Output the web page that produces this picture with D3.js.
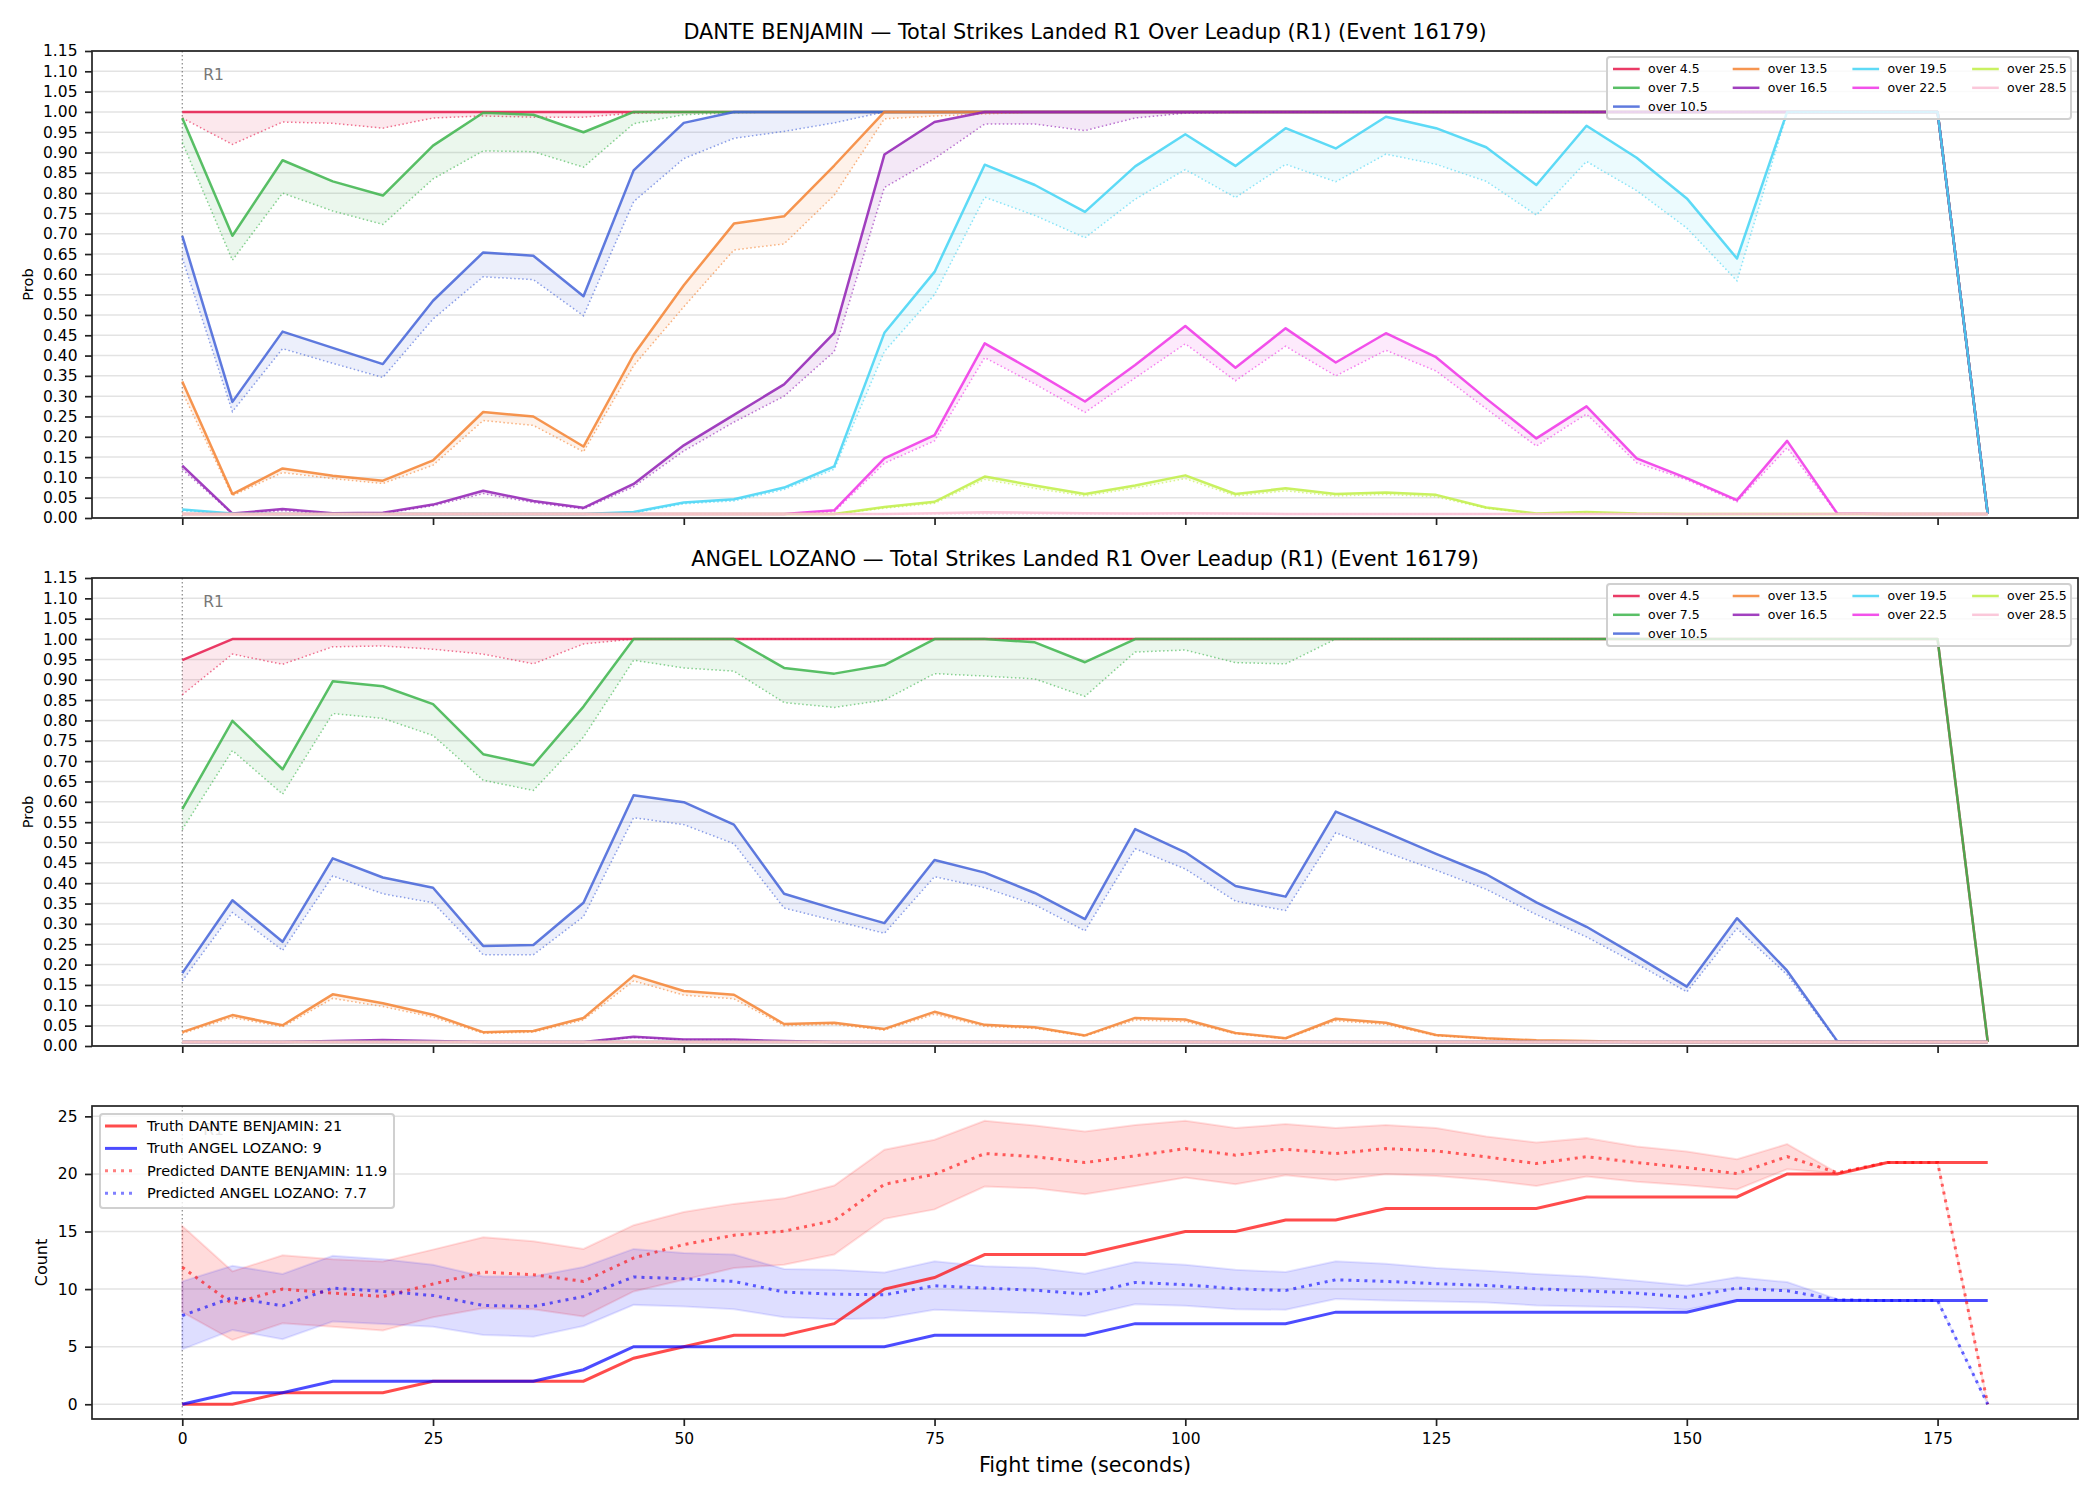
<!DOCTYPE html>
<html>
<head>
<meta charset="utf-8">
<script src="https://cdn.jsdelivr.net/npm/d3@7"></script>
<style>
body { margin: 0; background: #fff; }
text { font-family: "DejaVu Sans", sans-serif; }
</style>
</head>
<body>
<script>
//wrap everything in a self-executing anonymous function to keep it local
(function(){

//fight time (seconds) of every sample
var fightTimes = [0,5,10,15,20,25,30,35,40,45,50,55,60,65,70,75,80,85,90,95,100,105,110,115,120,125,130,135,140,145,150,155,160,165,170,175,180];

//tick values
var timeTicks = [0,25,50,75,100,125,150,175];
var probTicks = [0,0.05,0.10,0.15,0.20,0.25,0.30,0.35,0.40,0.45,0.50,0.55,0.60,0.65,0.70,0.75,0.80,0.85,0.90,0.95,1.00,1.05,1.10,1.15];
var countTicks = [0,5,10,15,20,25];

var fighterNames = ["DANTE BENJAMIN", "ANGEL LOZANO"];
var eventId = 16179;

//over lines and their colours
var lineLabels = ["over 4.5","over 7.5","over 10.5","over 13.5","over 16.5","over 19.5","over 22.5","over 25.5","over 28.5"];
var lineColours = ["#e6194b","#3cb44b","#4363d8","#f58231","#911eb4","#42d4f4","#f032e6","#bfef45","#fabed4"];

//line that sits on the 0.01 floor the whole fight
var floorLine = [.01,.01,.01,.01,.01,.01,.01,.01,.01,.01, .01,.01,.01,.01,.01,.01,.01,.01,.01,.01, .01,.01,.01,.01,.01,.01,.01,.01,.01,.01, .01,.01,.01,.01,.01,.01,.01];

//DANTE BENJAMIN - solid lines
var danteSolid45 = [1,1,1,1,1,1,1,1,1,1, 1,1,1,1,1,1,1,1,1,1, 1,1,1,1,1,1,1,1,1,1, 1,1,1,1,1,1,.01];
var danteSolid75 = [.985,.695,.881,.829,.794,.917,.998,.993,.95,1, 1,1,1,1,1,1,1,1,1,1, 1,1,1,1,1,1,1,1,1,1, 1,1,1,1,1,1,.01];
var danteSolid105 = [.695,.286,.459,.419,.379,.535,.654,.646,.546,.856, .973,1,1,1,1,1,1,1,1,1, 1,1,1,1,1,1,1,1,1,1, 1,1,1,1,1,1,.01];
var danteSolid135 = [.336,.059,.122,.104,.092,.142,.261,.25,.176,.402, .573,.725,.743,.868,1,1,1,1,1,1, 1,1,1,1,1,1,1,1,1,1, 1,1,1,1,1,1,.01];
var danteSolid165 = [.129,.011,.022,.012,.013,.033,.067,.042,.025,.084, .179,.254,.329,.456,.895,.975,1,1,1,1, 1,1,1,1,1,1,1,1,1,1, 1,1,1,1,1,1,.01];
var danteSolid195 = [.021,.011,.01,.01,.01,.01,.01,.01,.01,.015, .038,.046,.075,.127,.456,.606,.87,.82,.754,.866, .945,.867,.96,.91,.988,.96,.913,.82,.966,.887, .787,.639,1,1,1,1,.01];
var danteSolid225 = [.01,.01,.01,.01,.01,.01,.01,.01,.01,.01, .01,.01,.01,.019,.147,.204,.43,.36,.287,.377, .473,.37,.467,.383,.455,.396,.294,.196,.275,.147, .098,.044,.19,.011,.01,.01,.01];
var danteSolid255 = [.01,.01,.01,.01,.01,.01,.01,.01,.01,.01, .01,.01,.01,.01,.027,.04,.102,.08,.059,.08, .105,.059,.073,.059,.063,.057,.026,.011,.015,.011, .01,.01,.01,.01,.01,.01,.01];
var danteSolid285 = [.01,.01,.01,.01,.01,.01,.01,.01,.01,.01, .01,.01,.01,.01,.01,.012,.014,.013,.012,.011, .012,.011,.01,.01,.01,.01,.01,.01,.01,.01, .01,.01,.01,.01,.01,.01,.01];

//DANTE BENJAMIN - dotted lines
var danteDotted45 = [.985,.92,.975,.972,.96,.985,.99,.987,.987,.997, .999,1,1,1,1,1,1,1,1,1, 1,1,1,1,1,1,1,1,1,1, 1,1,1,1,1,1,.01];
var danteDotted75 = [.925,.635,.80,.756,.723,.835,.904,.902,.864,.971, .993,.998,1,1,1,1,1,1,1,1, 1,1,1,1,1,1,1,1,1,1, 1,1,1,1,1,1,.01];
var danteDotted105 = [.64,.262,.417,.381,.346,.49,.594,.587,.498,.779, .885,.935,.952,.973,1,1,1,1,1,1, 1,1,1,1,1,1,1,1,1,1, 1,1,1,1,1,1,.01];
var danteDotted135 = [.31,.055,.112,.097,.085,.13,.24,.228,.163,.375, .52,.66,.675,.795,.983,.99,.995,1,1,1, 1,1,1,1,1,1,1,1,1,1, 1,1,1,1,1,1,.01];
var danteDotted165 = [.12,.01,.018,.01,.011,.03,.06,.038,.022,.077, .165,.236,.30,.41,.814,.885,.97,.97,.954,.985, .997,.999,1,1,1,1,1,1,1,1, 1,1,1,1,1,1,.01];
var danteDotted195 = [.018,.01,.01,.01,.01,.01,.01,.01,.01,.012, .035,.042,.07,.12,.41,.55,.79,.745,.69,.785, .858,.789,.871,.828,.896,.871,.829,.746,.878,.806, .714,.584,.998,1,1,1,.01];
var danteDotted225 = [.01,.01,.01,.01,.01,.01,.01,.01,.01,.01, .01,.01,.01,.015,.135,.19,.395,.33,.26,.345, .429,.338,.423,.35,.413,.362,.269,.177,.256,.136, .094,.04,.173,.01,.01,.01,.01];
var danteDotted255 = [.01,.01,.01,.01,.01,.01,.01,.01,.01,.01, .01,.01,.01,.01,.024,.036,.095,.073,.054,.074, .097,.054,.067,.054,.058,.052,.024,.01,.013,.01, .01,.01,.01,.01,.01,.01,.01];

//ANGEL LOZANO - solid lines
var angelSolid45 = [.948,1,1,1,1,1,1,1,1,1, 1,1,1,1,1,1,1,1,1,1, 1,1,1,1,1,1,1,1,1,1, 1,1,1,1,1,1,.01];
var angelSolid75 = [.582,.799,.68,.896,.884,.84,.717,.69,.834,1, 1,1,.929,.915,.936,1,1,.992,.943,1, 1,1,1,1,1,1,1,1,1,1, 1,1,1,1,1,1,.01];
var angelSolid105 = [.179,.358,.256,.461,.414,.389,.246,.248,.352,.616, .599,.544,.374,.337,.302,.457,.426,.376,.312,.533, .476,.393,.367,.576,.525,.472,.422,.353,.293,.221, .146,.314,.185,.012,.01,.01,.01];
var angelSolid135 = [.034,.076,.051,.127,.105,.077,.034,.037,.069,.173, .135,.126,.054,.057,.042,.084,.052,.046,.026,.069, .065,.032,.019,.067,.057,.027,.019,.014,.012,.01, .01,.01,.01,.01,.01,.01,.01];
var angelSolid165 = [.01,.01,.01,.012,.015,.012,.01,.01,.01,.023, .016,.016,.012,.01,.01,.01,.01,.01,.01,.01, .01,.01,.01,.01,.01,.01,.01,.01,.01,.01, .01,.01,.01,.01,.01,.01,.01];

//ANGEL LOZANO - dotted lines
var angelDotted45 = [.863,.963,.938,.981,.983,.975,.963,.939,.988,1, 1,1,1,1,1,1,1,1,1,1, 1,1,1,1,1,1,1,1,1,1, 1,1,1,1,1,1,.01];
var angelDotted75 = [.532,.726,.619,.817,.805,.763,.653,.628,.759,.948, .929,.921,.844,.832,.85,.915,.909,.902,.859,.968, .973,.942,.939,1,1,1,1,1,1,1, 1,1,1,1,1,1,.01];
var angelDotted105 = [.16,.328,.235,.418,.374,.352,.224,.224,.318,.561, .544,.497,.339,.308,.277,.416,.389,.347,.283,.485, .435,.356,.333,.524,.476,.432,.385,.323,.268,.202, .133,.289,.175,.01,.01,.01,.01];
var angelDotted135 = [.031,.07,.047,.117,.097,.071,.031,.034,.064,.16, .125,.116,.05,.053,.039,.078,.048,.043,.024,.064, .06,.03,.018,.062,.053,.025,.018,.013,.011,.01, .01,.01,.01,.01,.01,.01,.01];
var angelDotted165 = [.01,.01,.01,.011,.013,.011,.01,.01,.01,.021, .015,.015,.011,.01,.01,.01,.01,.01,.01,.01, .01,.01,.01,.01,.01,.01,.01,.01,.01,.01, .01,.01,.01,.01,.01,.01,.01];

//counts: truth and predicted with band
var truthDante = [0,0,1,1,1,2,2,2,2,4, 5,6,6,7,10,11,13,13,13,14, 15,15,16,16,17,17,17,17,18,18, 18,18,20,20,21,21,21];
var truthAngel = [0,1,1,2,2,2,2,2,3,5, 5,5,5,5,5,6,6,6,6,7, 7,7,7,8,8,8,8,8,8,8, 8,9,9,9,9,9,9];
var predDante = [11.9,8.72,10.0,9.65,9.36,10.44,11.48,11.25,10.67,12.7, 13.87,14.68,15.03,15.96,19.1,19.97,21.77,21.5,20.99,21.57, 22.2,21.63,22.15,21.77,22.2,22.0,21.48,20.9,21.5,20.99, 20.55,20.03,21.5,20.1,21.0,21.0,0];
var predDanteHigh = [15.47,11.54,12.94,12.6,12.4,13.43,14.5,14.16,13.49,15.55, 16.7,17.4,17.88,19.0,22.1,22.97,24.62,24.2,23.69,24.24, 24.62,23.98,24.33,23.98,24.24,23.98,23.26,22.73,23.11,22.38, 21.95,21.28,22.59,20.1,21.0,21.0,0];
var predDanteLow = [7.99,5.58,7.03,6.74,6.4,7.56,8.34,8.26,7.62,9.8, 10.81,11.83,12.12,13.0,16.1,16.92,18.9,18.75,18.23,18.95, 19.68,19.1,19.88,19.45,19.97,19.83,19.48,18.95,19.77,19.33, 19.01,18.66,20.41,20.06,21.0,21.0,0];
var predAngel = [7.7,9.27,8.55,10.09,9.8,9.45,8.58,8.49,9.36,11.05, 10.9,10.67,9.74,9.56,9.5,10.29,10.09,9.9,9.56,10.58, 10.38,10.03,9.88,10.81,10.67,10.47,10.32,10.03,9.85,9.65, 9.3,10.09,9.85,9.07,9.0,9.0,0];
var predAngelHigh = [10.67,12.03,11.31,12.9,12.6,12.12,11.1,11.1,11.92,13.49, 13.14,13.0,11.74,11.69,11.45,12.41,11.98,11.85,11.34,12.35, 12.12,11.69,11.48,12.41,12.21,11.83,11.6,11.31,11.1,10.73, 10.32,11.02,10.61,9.13,9.0,9.0,0];
var predAngelLow = [4.77,6.45,5.64,7.18,6.98,6.74,6.02,5.87,6.8,8.63, 8.49,8.26,7.56,7.38,7.47,8.2,8.05,7.9,7.67,8.69, 8.55,8.26,8.2,9.13,9.01,8.92,8.84,8.58,8.49,8.4, 8.2,9.07,9.07,9.07,9.0,9.0,0];

//group the over lines per fighter
var danteSolid = [danteSolid45, danteSolid75, danteSolid105, danteSolid135, danteSolid165, danteSolid195, danteSolid225, danteSolid255, danteSolid285];
var danteDotted = [danteDotted45, danteDotted75, danteDotted105, danteDotted135, danteDotted165, danteDotted195, danteDotted225, danteDotted255, floorLine];
var angelSolid = [angelSolid45, angelSolid75, angelSolid105, angelSolid135, angelSolid165, floorLine, floorLine, floorLine, floorLine];
var angelDotted = [angelDotted45, angelDotted75, angelDotted105, angelDotted135, angelDotted165, floorLine, floorLine, floorLine, floorLine];

//layout
var width = 2100,
    height = 1500,
    plotLeft = 92,
    plotRight = 2078;

window.onload = setChart();

function setChart(){
    var chart = d3.select("body")
        .append("svg")
        .attr("width", width)
        .attr("height", height)
        .style("display", "block");

    chart.append("rect")
        .attr("width", width)
        .attr("height", height)
        .attr("fill", "#fff");

    //shared time scale
    var x = d3.scaleLinear()
        .domain([-9, 189])
        .range([plotLeft, plotRight]);

    setProbPanel(chart, x, 51, 518, fighterNames[0], danteSolid, danteDotted);
    setProbPanel(chart, x, 578, 1046, fighterNames[1], angelSolid, angelDotted);
    setCountPanel(chart, x, 1106, 1419);

    //x axis label
    chart.append("text")
        .attr("x", (plotLeft + plotRight) / 2)
        .attr("y", 1472)
        .attr("text-anchor", "middle")
        .style("font-size", "20.8px")
        .text("Fight time (seconds)");
};

//grid lines, round marker and R1 label
function setBackground(g, x, y, ticks, top, bottom){
    g.selectAll(".grid")
        .data(ticks)
        .enter()
        .append("line")
        .attr("class", "grid")
        .attr("x1", plotLeft)
        .attr("x2", plotRight)
        .attr("y1", function(d){ return y(d); })
        .attr("y2", function(d){ return y(d); })
        .attr("stroke", "#e3e3e3")
        .attr("stroke-width", 1.5);

    g.append("line")
        .attr("x1", x(0))
        .attr("x2", x(0))
        .attr("y1", top)
        .attr("y2", bottom)
        .attr("stroke", "#555")
        .attr("stroke-opacity", 0.7)
        .attr("stroke-width", 1.2)
        .attr("stroke-dasharray", "1.5,2.5");

    g.append("text")
        .attr("x", x(0) + 21)
        .attr("y", top + 29)
        .style("font-size", "15.5px")
        .attr("fill", "#777")
        .text("R1");
};

//axes and the frame round the plot
function setAxes(g, x, y, ticks, format, top, bottom, showTimeLabels){
    var yAxis = g.append("g")
        .attr("transform", "translate(" + plotLeft + ",0)")
        .call(d3.axisLeft(y).tickValues(ticks).tickFormat(format).tickSize(7).tickPadding(7.5));

    var xAxis = g.append("g")
        .attr("transform", "translate(0," + bottom + ")")
        .call(d3.axisBottom(x).tickValues(timeTicks).tickSize(7).tickPadding(7)
            .tickFormat(showTimeLabels ? d3.format("d") : function(){ return ""; }));

    [yAxis, xAxis].forEach(function(a){
        a.select(".domain").remove();
        a.selectAll(".tick line").attr("stroke", "#222").attr("stroke-width", 1.7);
        a.selectAll(".tick text")
            .attr("fill", "#000")
            .style("font-family", "DejaVu Sans, sans-serif")
            .style("font-size", "15.5px");
    });

    g.append("rect")
        .attr("x", plotLeft)
        .attr("y", top)
        .attr("width", plotRight - plotLeft)
        .attr("height", bottom - top)
        .attr("fill", "none")
        .attr("stroke", "#222")
        .attr("stroke-width", 1.7);
};

//one probability panel for a fighter
function setProbPanel(chart, x, top, bottom, fighter, solids, dotteds){
    var g = chart.append("g");

    var y = d3.scaleLinear()
        .domain([0, 1.15])
        .range([bottom, top]);

    setBackground(g, x, y, probTicks, top, bottom);

    var line = d3.line()
        .x(function(d, i){ return x(fightTimes[i]); })
        .y(function(d){ return y(d); });

    //band, dotted line and solid line for every over line
    solids.forEach(function(solid, k){
        var dotted = dotteds[k];
        var band = d3.area()
            .x(function(d, i){ return x(fightTimes[i]); })
            .y0(function(d, i){ return y(dotted[i]); })
            .y1(function(d){ return y(d); });

        g.append("path")
            .datum(solid)
            .attr("d", band)
            .attr("fill", lineColours[k])
            .attr("fill-opacity", 0.1);

        g.append("path")
            .datum(dotted)
            .attr("d", line)
            .attr("fill", "none")
            .attr("stroke", lineColours[k])
            .attr("stroke-opacity", 0.6)
            .attr("stroke-width", 1.5)
            .attr("stroke-dasharray", "1.5,2.5");

        g.append("path")
            .datum(solid)
            .attr("d", line)
            .attr("fill", "none")
            .attr("stroke", lineColours[k])
            .attr("stroke-opacity", 0.85)
            .attr("stroke-width", 2.5)
            .attr("stroke-linejoin", "round");
    });

    setAxes(g, x, y, probTicks, d3.format(".2f"), top, bottom, false);

    //title and y label
    g.append("text")
        .attr("x", (plotLeft + plotRight) / 2)
        .attr("y", top - 12)
        .attr("text-anchor", "middle")
        .style("font-size", "20.8px")
        .text(fighter + " \u2014 Total Strikes Landed R1 Over Leadup (R1) (Event " + eventId + ")");

    g.append("text")
        .attr("transform", "translate(28," + (top + bottom) / 2 + ") rotate(-90)")
        .attr("text-anchor", "middle")
        .attr("dy", "0.35em")
        .style("font-size", "14.6px")
        .text("Prob");

    setProbLegend(g, top);
};

//four column legend of the over lines
function setProbLegend(g, top){
    var legend = g.append("g");

    legend.append("rect")
        .attr("x", 1607)
        .attr("y", top + 6)
        .attr("width", 464)
        .attr("height", 62)
        .attr("rx", 3)
        .attr("fill", "#fff")
        .attr("fill-opacity", 0.8)
        .attr("stroke", "#d0d0d0")
        .attr("stroke-width", 2);

    lineLabels.forEach(function(label, k){
        var col = k < 3 ? 0 : Math.floor((k - 3) / 2) + 1;
        var row = k < 3 ? k : (k - 3) % 2;
        var lx = 1613 + col * 119.7;
        var ly = top + 18 + row * 18.8;

        legend.append("line")
            .attr("x1", lx)
            .attr("x2", lx + 26.7)
            .attr("y1", ly)
            .attr("y2", ly)
            .attr("stroke", lineColours[k])
            .attr("stroke-opacity", 0.85)
            .attr("stroke-width", 2.5);

        legend.append("text")
            .attr("x", lx + 35)
            .attr("y", ly)
            .attr("dy", "0.35em")
            .style("font-size", "12.5px")
            .text(label);
    });
};

//count panel: truth against predicted
function setCountPanel(chart, x, top, bottom){
    var g = chart.append("g");

    var y = d3.scaleLinear()
        .domain([-1.28, 25.9])
        .range([bottom, top]);

    setBackground(g, x, y, countTicks, top, bottom);

    var line = d3.line()
        .x(function(d, i){ return x(fightTimes[i]); })
        .y(function(d){ return y(d); });

    function band(low){
        return d3.area()
            .x(function(d, i){ return x(fightTimes[i]); })
            .y0(function(d, i){ return y(low[i]); })
            .y1(function(d){ return y(d); });
    };

    //prediction bands
    g.append("path").datum(predDanteHigh).attr("d", band(predDanteLow))
        .attr("fill", "#ff0000").attr("fill-opacity", 0.14)
        .attr("stroke", "#ff0000").attr("stroke-opacity", 0.12).attr("stroke-width", 2);
    g.append("path").datum(predAngelHigh).attr("d", band(predAngelLow))
        .attr("fill", "#0000ff").attr("fill-opacity", 0.13)
        .attr("stroke", "#0000ff").attr("stroke-opacity", 0.1).attr("stroke-width", 2);

    //truth lines
    g.append("path").datum(truthDante).attr("d", line)
        .attr("fill", "none").attr("stroke", "#ff0000").attr("stroke-opacity", 0.7).attr("stroke-width", 3);
    g.append("path").datum(truthAngel).attr("d", line)
        .attr("fill", "none").attr("stroke", "#0000ff").attr("stroke-opacity", 0.7).attr("stroke-width", 3);

    //predicted lines
    g.append("path").datum(predDante).attr("d", line)
        .attr("fill", "none").attr("stroke", "#ff0000").attr("stroke-opacity", 0.6)
        .attr("stroke-width", 3).attr("stroke-dasharray", "3,5");
    g.append("path").datum(predAngel).attr("d", line)
        .attr("fill", "none").attr("stroke", "#0000ff").attr("stroke-opacity", 0.6)
        .attr("stroke-width", 3).attr("stroke-dasharray", "3,5");

    setAxes(g, x, y, countTicks, d3.format("d"), top, bottom, true);

    g.append("text")
        .attr("transform", "translate(41," + (top + bottom) / 2 + ") rotate(-90)")
        .attr("text-anchor", "middle")
        .attr("dy", "0.35em")
        .style("font-size", "16px")
        .text("Count");

    //legend
    var entries = [
        {label: "Truth " + fighterNames[0] + ": " + truthDante[truthDante.length - 1], colour: "#ff0000", opacity: 0.7, dash: null},
        {label: "Truth " + fighterNames[1] + ": " + truthAngel[truthAngel.length - 1], colour: "#0000ff", opacity: 0.7, dash: null},
        {label: "Predicted " + fighterNames[0] + ": " + d3.format(".1f")(predDante[0]), colour: "#ff0000", opacity: 0.5, dash: "3,5"},
        {label: "Predicted " + fighterNames[1] + ": " + d3.format(".1f")(predAngel[0]), colour: "#0000ff", opacity: 0.5, dash: "3,5"}
    ];

    var legend = g.append("g");
    legend.append("rect")
        .attr("x", 100)
        .attr("y", top + 8)
        .attr("width", 294)
        .attr("height", 94)
        .attr("rx", 3)
        .attr("fill", "#fff")
        .attr("fill-opacity", 0.8)
        .attr("stroke", "#d0d0d0")
        .attr("stroke-width", 2);

    entries.forEach(function(e, k){
        var ly = top + 20 + k * 22.4;
        legend.append("line")
            .attr("x1", 105)
            .attr("x2", 137)
            .attr("y1", ly)
            .attr("y2", ly)
            .attr("stroke", e.colour)
            .attr("stroke-opacity", e.opacity)
            .attr("stroke-width", 3)
            .attr("stroke-dasharray", e.dash);
        legend.append("text")
            .attr("x", 147)
            .attr("y", ly)
            .attr("dy", "0.35em")
            .style("font-size", "14.5px")
            .text(e.label);
    });
};

})();
</script>
</body>
</html>
